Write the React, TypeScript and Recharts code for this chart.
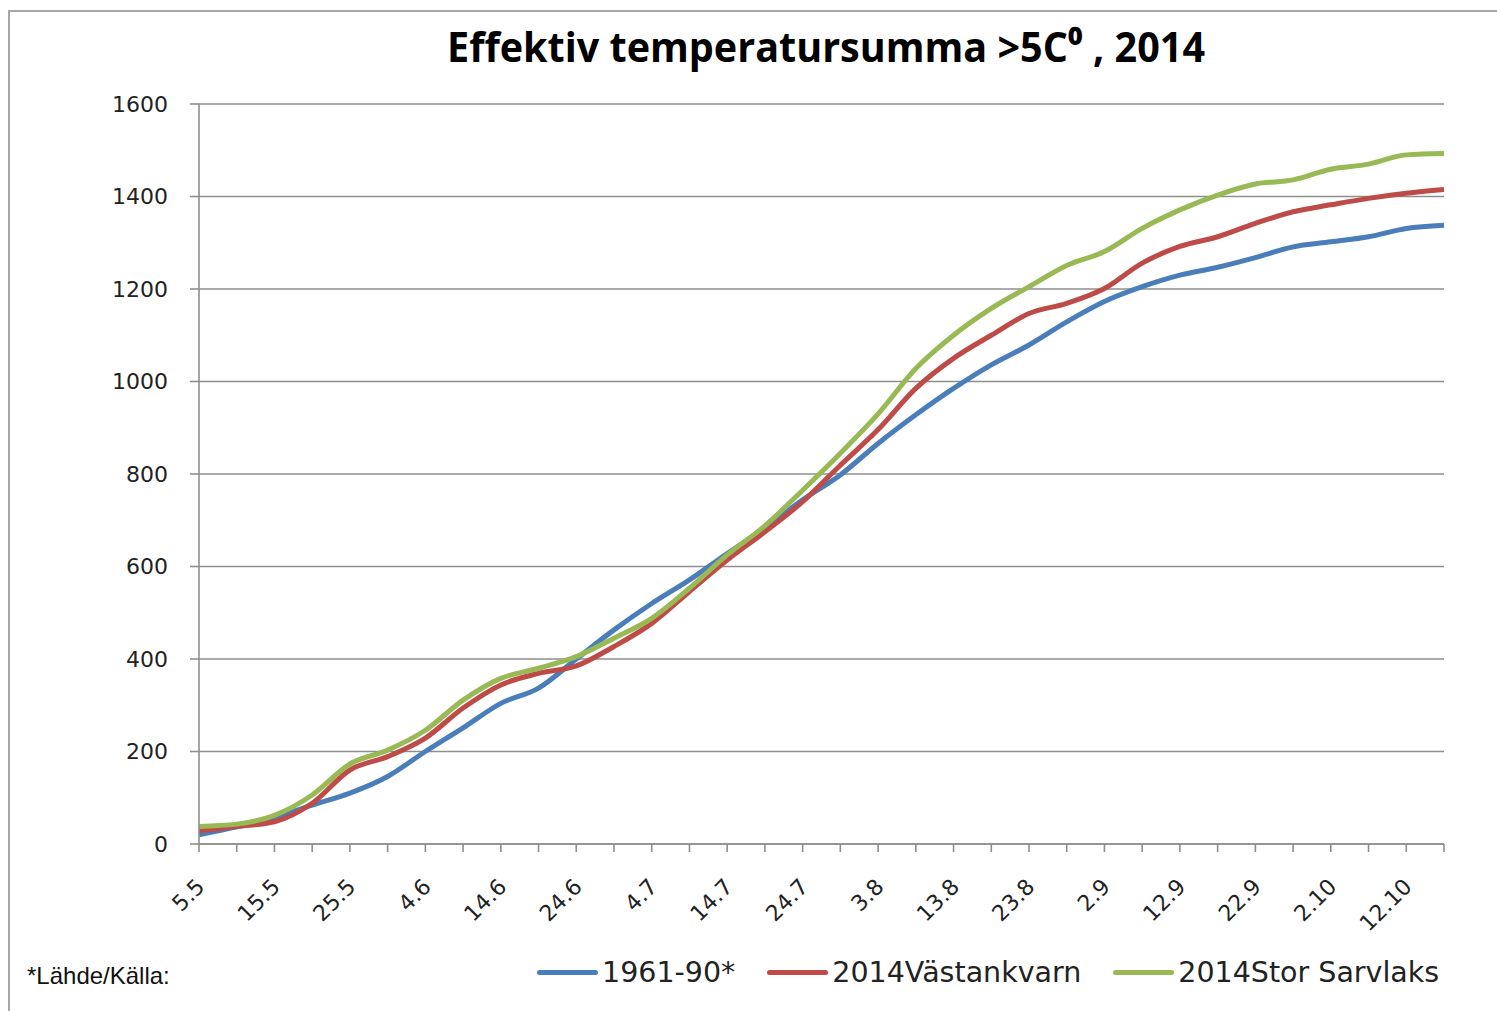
import React from 'react';
import { LineChart, Line, XAxis, YAxis, CartesianGrid, Legend } from 'recharts';

// dates every 5 days, 5.5 -> 17.10
const dates = [
  '5.5', '10.5', '15.5', '20.5', '25.5', '30.5',
  '4.6', '9.6', '14.6', '19.6', '24.6', '29.6',
  '4.7', '9.7', '14.7', '19.7', '24.7', '29.7',
  '3.8', '8.8', '13.8', '18.8', '23.8', '28.8',
  '2.9', '7.9', '12.9', '17.9', '22.9', '27.9',
  '2.10', '7.10', '12.10', '17.10',
];

const normal1961 = [
  20, 37, 57, 84, 110, 146, 200, 251, 304, 337, 400, 463, 520, 571, 628, 683, 744,
  798, 866, 928, 985, 1036, 1079, 1129, 1173, 1205, 1230, 1247, 1268, 1291, 1302, 1313, 1331, 1338,
];

const vastankvarn = [
  28, 38, 48, 88, 160, 189, 229, 294, 344, 369, 385, 427, 477, 546, 614, 675, 740,
  819, 896, 985, 1050, 1100, 1147, 1169, 1201, 1256, 1292, 1313, 1342, 1367, 1382, 1396, 1407, 1415,
];

const storSarvlaks = [
  38, 43, 62, 106, 173, 203, 246, 311, 358, 380, 405, 445, 488, 553, 625, 688, 765,
  845, 930, 1028, 1100, 1158, 1205, 1251, 1281, 1331, 1371, 1403, 1427, 1436, 1459, 1470, 1490, 1493,
];

const yTicks = [0, 200, 400, 600, 800, 1000, 1200, 1400, 1600];

const series = [
  { key: 'a', name: '1961-90*', color: '#4A7EBB' },
  { key: 'b', name: '2014Västankvarn', color: '#BE4B48' },
  { key: 'c', name: '2014Stor Sarvlaks', color: '#98B954' },
];

const data = dates.map((d, i) => ({
  date: d,
  a: normal1961[i],
  b: vastankvarn[i],
  c: storSarvlaks[i],
}));

const gridColor = '#8e8e8e';

const DateTick = (props: any) => {
  const { x, y, payload, index } = props;
  if (index % 2 !== 0) return <g />;
  return (
    <text
      x={0}
      y={0}
      transform={`translate(${x + 7},${y + 34}) rotate(-45)`}
      textAnchor="end"
      fill="#222"
      fontSize={22}
      fontFamily="DejaVu Sans"
    >
      {payload.value}
    </text>
  );
};

const LegendContent = (props: any) => {
  const items = [...(props.payload || [])].sort(
    (p: any, q: any) =>
      series.findIndex((s) => s.key === p.dataKey) - series.findIndex((s) => s.key === q.dataKey)
  );
  return (
    <div style={{ display: 'flex', alignItems: 'center', fontFamily: 'DejaVu Sans', fontSize: 28.5, color: '#222' }}>
      {items.map((it: any, i: number) => (
        <div key={i} style={{ display: 'flex', alignItems: 'center', marginRight: 32 }}>
          <div style={{ width: 61, height: 5, borderRadius: 3, background: it.color, marginRight: 4 }} />
          <span>{it.value}</span>
        </div>
      ))}
    </div>
  );
};

export default function App() {
  return (
    <div style={{ position: 'fixed', left: 0, top: 0, width: 1497, height: 1011, overflow: 'hidden', background: '#fff' }}>
      <div style={{ position: 'absolute', left: 8, top: 10, width: 1600, height: 1100, border: '2px solid #a6a6a6' }} />
      <svg width={1497} height={100} style={{ position: 'absolute', left: 0, top: 0 }}>
        <text
          x={826}
          y={62}
          textAnchor="middle"
          textLength={758}
          lengthAdjust="spacingAndGlyphs"
          fontSize={41}
          fontWeight="bold"
          fontFamily="Open Sans"
          fill="#000"
        >
          Effektiv temperatursumma &gt;5C⁰ , 2014
        </text>
      </svg>
      <div style={{ position: 'absolute', left: 27, top: 962, fontFamily: 'Liberation Sans', fontSize: 24, color: '#111' }}>
        *Lähde/Källa:
      </div>
      <div style={{ position: 'absolute', left: 0, top: 0 }}>
        <LineChart width={1497} height={1011} data={data} margin={{ top: 104, right: 53, left: 0, bottom: 67 }}>
          <CartesianGrid vertical={false} stroke={gridColor} strokeWidth={1.6} />
          <XAxis
            dataKey="date"
            interval={0}
            height={100}
            tickSize={8}
            tick={<DateTick />}
            axisLine={{ stroke: gridColor, strokeWidth: 1.6 }}
            tickLine={{ stroke: gridColor, strokeWidth: 1.6 }}
          />
          <YAxis
            width={199}
            domain={[0, 1600]}
            ticks={yTicks}
            tickSize={9}
            tickMargin={22}
            tick={{ fill: '#222', fontSize: 22, fontFamily: 'DejaVu Sans' }}
            axisLine={{ stroke: gridColor, strokeWidth: 1.6 }}
            tickLine={{ stroke: gridColor, strokeWidth: 1.6 }}
          />
          <Legend
            layout="horizontal"
            verticalAlign="middle"
            align="center"
            itemSorter="dataKey"
            content={<LegendContent />}
            wrapperStyle={{ top: 956, left: 537, width: 'auto', height: 36 }}
          />
          {series.map((s) => (
            <Line
              key={s.key}
              type="monotone"
              dataKey={s.key}
              name={s.name}
              stroke={s.color}
              strokeWidth={5}
              dot={false}
              activeDot={false}
              isAnimationActive={false}
            />
          ))}
        </LineChart>
      </div>
    </div>
  );
}
